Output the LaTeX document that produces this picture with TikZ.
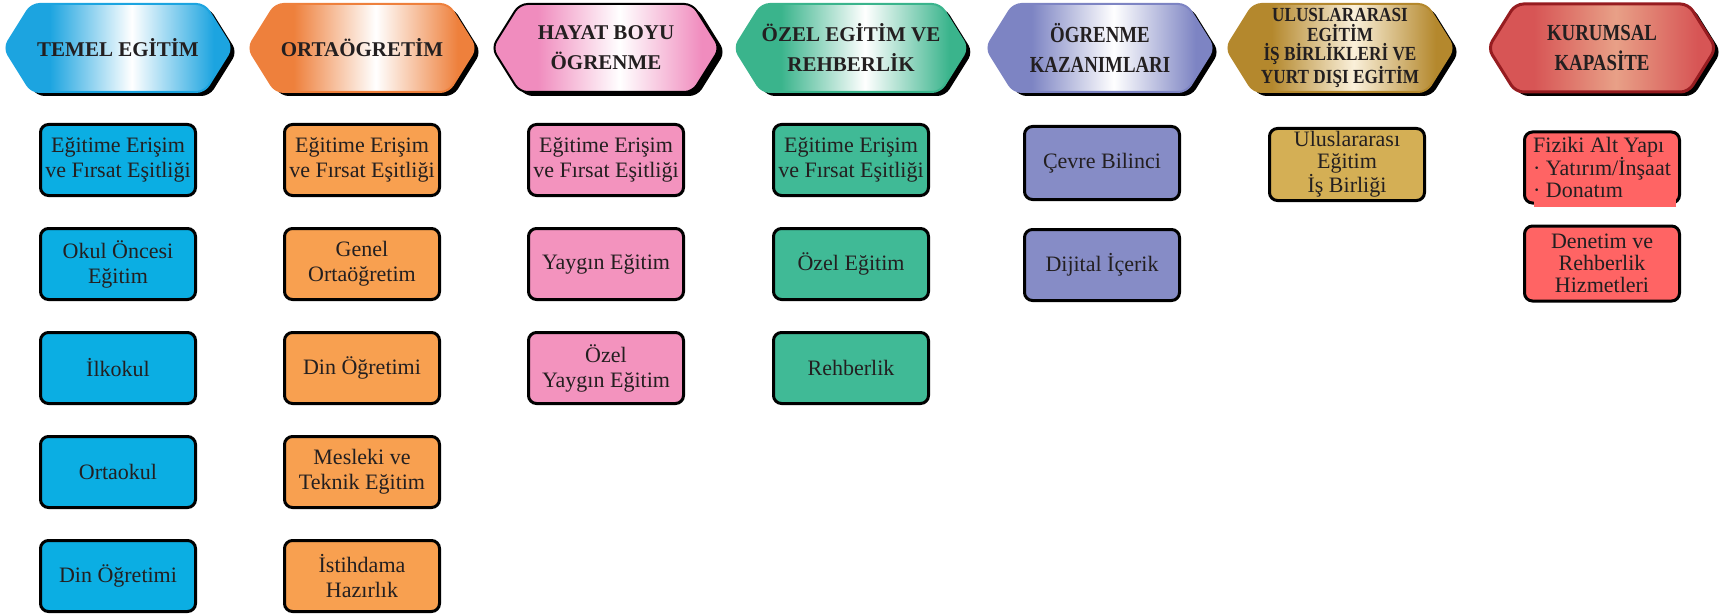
\documentclass[tikz,border=0pt]{standalone}
\usepackage{fontspec}
\setmainfont{Liberation Serif}
\usepackage{xcolor}
\usepackage{graphicx}
\usepackage{tikz}
\usetikzlibrary{positioning, shapes.symbols, shadows}

\definecolor{inkc}{RGB}{35,31,32}
\definecolor{temelh}{RGB}{28,164,224}
\definecolor{ortah}{RGB}{238,128,60}
\definecolor{hayath}{RGB}{240,140,190}
\definecolor{ozelh}{RGB}{58,180,140}
\definecolor{ogrenh}{RGB}{125,132,195}
\definecolor{ulush}{RGB}{180,136,45}
\definecolor{ulusm}{RGB}{250,240,218}
\definecolor{kurumh}{RGB}{215,85,85}
\definecolor{kurumm}{RGB}{232,160,135}
\definecolor{kurumd}{RGB}{150,28,32}
\definecolor{temelb}{RGB}{11,174,227}
\definecolor{ortab}{RGB}{248,160,80}
\definecolor{hayatb}{RGB}{243,147,190}
\definecolor{ozelb}{RGB}{64,186,150}
\definecolor{ogrenb}{RGB}{134,140,198}
\definecolor{ulusb}{RGB}{212,175,85}
\definecolor{kurumb}{RGB}{255,100,100}
\colorlet{hdrc}{gray}
\colorlet{hdrm}{white}

\pgfdeclarehorizontalshading[hdrc,hdrm]{hdrshade}{100bp}{color(0bp)=(hdrc); color(35bp)=(hdrc); color(53bp)=(hdrm); color(71bp)=(hdrc); color(100bp)=(hdrc)}

\tikzstyle{header} = [signal, signal to=west and east, signal pointer angle=116, minimum width=228pt, minimum height=88pt, inner sep=0pt, rounded corners=8pt, line width=2pt, text=inkc, align=center, font=\fontsize{21}{30}\selectfont\bfseries, hdrmid=white, drop shadow={fill=black, opacity=1, shadow xshift=5pt, shadow yshift=-4pt}]
\tikzstyle{box}    = [rectangle, rounded corners=8pt, draw=black, line width=3pt, minimum width=155pt, minimum height=71pt, inner sep=0pt, text=inkc, align=center, font=\fontsize{22}{25}\selectfont]
\tikzset{
  hdrcol/.code={\colorlet{hdrc}{#1}},
  hdrmid/.code={\colorlet{hdrm}{#1}},
  hdrfill/.style={shade, shading=hdrshade, shading angle=0, hdrcol=#1, draw=#1}
}
\newcommand{\narrowtxt}[2][0.82]{\scalebox{#1}[1]{#2}}

\begin{document}
\begin{tikzpicture}[x=1pt, y=-1pt, node distance=30pt]
  \useasboundingbox (0,0) rectangle (1719,615);

  % headers
  \node (temel) [header, hdrfill=temelh] at (118,48) {TEMEL EGİTİM};
  \node (orta)  [header, hdrfill=ortah]  at (362,48) {ORTAÖGRETİM};
  \node (hayat) [header, hdrfill=hayath, draw=black] at (606,48) {HAYAT BOYU\\ÖGRENME};
  \node (ozel)  [header, hdrfill=ozelh]  at (851,48) {ÖZEL EGİTİM VE\\REHBERLİK};
  \node (ogren) [header, hdrfill=ogrenh, font=\fontsize{23}{30}\selectfont\bfseries] at (1100,48)
        {\narrowtxt{ÖGRENME}\\\narrowtxt{KAZANIMLARI}};
  \node (ulus)  [header, hdrfill=ulush, hdrmid=ulusm, font=\fontsize{20}{19.5}\selectfont\bfseries] at (1340,48)
        {\narrowtxt[0.86]{ULUSLARARASI}\\\narrowtxt[0.86]{EGİTİM}\\\narrowtxt[0.86]{İŞ BİRLİKLERİ VE}\\\narrowtxt[0.86]{YURT DIŞI EGİTİM}};
  \node (kurum) [header, hdrfill=kurumh, hdrmid=kurumm, draw=kurumd, line width=3pt, font=\fontsize{23}{30}\selectfont\bfseries] at (1602,48)
        {\narrowtxt{KURUMSAL}\\\narrowtxt{KAPASİTE}};

  % temel egitim
  \node (temel1) [box, fill=temelb, below=of temel]  {Eğitime Erişim\\ve Fırsat Eşitliği};
  \node (temel2) [box, fill=temelb, below=of temel1] {Okul Öncesi\\Eğitim};
  \node (temel3) [box, fill=temelb, below=of temel2] {İlkokul};
  \node (temel4) [box, fill=temelb, below=of temel3] {Ortaokul};
  \node (temel5) [box, fill=temelb, below=of temel4] {Din Öğretimi};

  % ortaogretim
  \node (orta1) [box, fill=ortab, below=of orta]  {Eğitime Erişim\\ve Fırsat Eşitliği};
  \node (orta2) [box, fill=ortab, below=of orta1] {Genel\\Ortaöğretim};
  \node (orta3) [box, fill=ortab, below=of orta2] {Din Öğretimi};
  \node (orta4) [box, fill=ortab, below=of orta3] {Mesleki ve\\Teknik Eğitim};
  \node (orta5) [box, fill=ortab, below=of orta4] {İstihdama\\Hazırlık};

  % hayat boyu
  \node (hayat1) [box, fill=hayatb, below=of hayat]  {Eğitime Erişim\\ve Fırsat Eşitliği};
  \node (hayat2) [box, fill=hayatb, below=of hayat1] {Yaygın Eğitim};
  \node (hayat3) [box, fill=hayatb, below=of hayat2] {Özel\\Yaygın Eğitim};

  % ozel egitim
  \node (ozel1) [box, fill=ozelb, below=of ozel]  {Eğitime Erişim\\ve Fırsat Eşitliği};
  \node (ozel2) [box, fill=ozelb, below=of ozel1] {Özel Eğitim};
  \node (ozel3) [box, fill=ozelb, below=of ozel2] {Rehberlik};

  % kazanimlar
  \node (ogren1) [box, fill=ogrenb, minimum height=73pt, below=32pt of ogren, xshift=2pt] {Çevre Bilinci};
  \node (ogren2) [box, fill=ogrenb, below=27pt of ogren1] {Dijital İçerik};

  % uluslararasi
  \node (ulus1) [box, fill=ulusb, minimum height=72pt, font=\fontsize{22}{22}\selectfont, below=34pt of ulus, xshift=7pt] {Uluslararası\\Eğitim\\İş Birliği};

  % kurumsal
  \node (fiziki) [box, fill=kurumb, align=left, font=\fontsize{22}{22}\selectfont, below=37pt of kurum] {Fiziki Alt Yapı\\· Yatırım/İnşaat\\· Donatım};
  \node (denetim) [box, fill=kurumb, minimum height=75pt, font=\fontsize{22}{22}\selectfont, below=20pt of fiziki] {Denetim ve\\Rehberlik\\Hizmetleri};
  \fill[kurumb] ([xshift=11pt,yshift=7pt]fiziki.south west) rectangle ([xshift=-5pt,yshift=-2pt]fiziki.south east);

\end{tikzpicture}
\end{document}
